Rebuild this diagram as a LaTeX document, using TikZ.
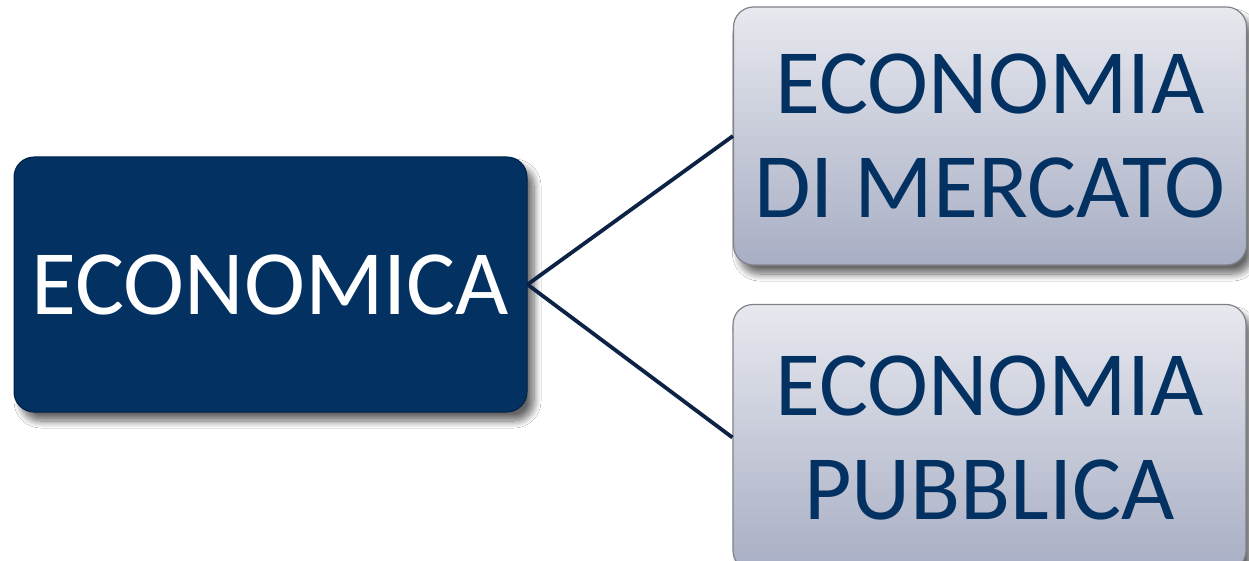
\documentclass[tikz,border=0pt]{standalone}
\usepackage{fontspec}
\setmainfont{Carlito}
\usetikzlibrary{shadows.blur}
\definecolor{navy}{RGB}{3,49,97}
\definecolor{navyedge}{RGB}{2,34,70}
\definecolor{linkcol}{RGB}{12,35,70}
\definecolor{boxtop}{RGB}{231,233,239}
\definecolor{boxbot}{RGB}{168,174,196}
\definecolor{boxedge}{RGB}{128,130,138}
\tikzset{
  bigtext/.style={font=\fontsize{92}{104}\selectfont, align=center, inner sep=0pt},
  mainbox/.style={bigtext, rounded corners=20pt, fill=navy, draw=navyedge, line width=1pt, text=white,
    blur shadow={shadow xshift=7pt, shadow yshift=-9pt, shadow blur steps=10, shadow blur radius=7pt, shadow opacity=60}},
  subbox/.style={bigtext, rounded corners=20pt, top color=boxtop, bottom color=boxbot, draw=boxedge, line width=1.2pt, text=navy,
    blur shadow={shadow xshift=6pt, shadow yshift=-9pt, shadow blur steps=10, shadow blur radius=7pt, shadow opacity=60}},
  link/.style={draw=linkcol, line width=3.8pt}
}
\begin{document}
\begin{tikzpicture}[x=1pt,y=-1pt]
\useasboundingbox[fill=white] (0,0) rectangle (1249,561);
\node[mainbox, minimum width=513pt, minimum height=255pt] (eco) at (270.5,284.5) {ECONOMICA};
\node[subbox, minimum width=513pt, minimum height=258pt] (merc) at (990,136) {ECONOMIA\\DI MERCATO};
\node[subbox, minimum width=513pt, minimum height=266pt] (pub) at (989.5,437.5) {ECONOMIA\\PUBBLICA};
\draw[link] (eco.east) -- (merc.west);
\draw[link] (eco.east) -- (pub.west);
\end{tikzpicture}
\end{document}
